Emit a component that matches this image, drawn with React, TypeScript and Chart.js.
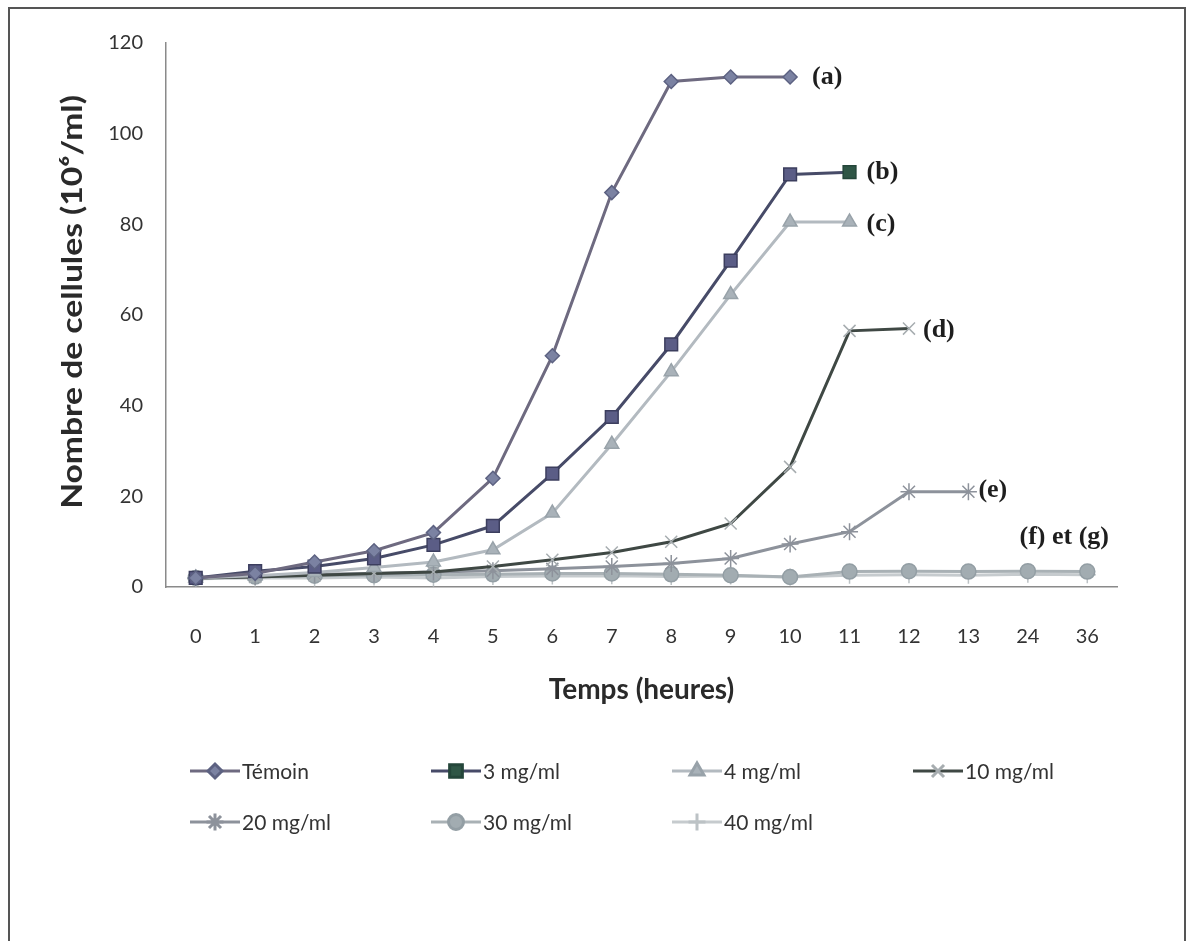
import React, { useEffect, useRef } from 'react';
import { Chart, registerables } from 'chart.js';
import { drawPoint } from 'chart.js/helpers';

Chart.register(...registerables);

// ---- data ----
const hours = ['0', '1', '2', '3', '4', '5', '6', '7', '8', '9', '10', '11', '12', '13', '24', '36'];
const temoin = [2, 3, 5.5, 8, 12, 24, 51, 87, 111.5, 112.5, 112.5];
const mg3 = [2, 3.5, 4.5, 6.3, 9.3, 13.5, 25, 37.5, 53.5, 72, 91, 91.5];
const mg4 = [2, 2.5, 3.2, 4.3, 5.5, 8.2, 16.3, 31.5, 47.5, 64.5, 80.5, 80.5];
const mg10 = [2, 2.2, 2.6, 3, 3.3, 4.5, 6, 7.6, 10, 14, 26.5, 56.5, 57];
const mg20 = [2, 2.3, 2.8, 3, 3.3, 3.6, 4, 4.5, 5.2, 6.3, 9.5, 12.2, 21, 21];
const mg30 = [2, 2.3, 2.5, 2.6, 2.7, 2.8, 3, 3, 2.8, 2.6, 2.2, 3.4, 3.5, 3.4, 3.5, 3.4];
const mg40 = [1.8, 2, 2, 2.2, 2, 2.3, 2.4, 2.5, 2.3, 2.4, 2.2, 2.6, 2.7, 2.6, 2.8, 2.7];
const seriesNames = ['Témoin', '3 mg/ml', '4 mg/ml', '10 mg/ml', '20 mg/ml', '30 mg/ml', '40 mg/ml'];
const curveTags = ['(a)', '(b)', '(c)', '(d)', '(e)', '(f) et (g)'];
const yMin = 0;
const yMax = 120;
const yStep = 20;
const xTitle = 'Temps (heures)';
const yTitle = 'Nombre de cellules (10⁶/ml)';

// ---- styles ----
const styles = [
  { line: '#6e6a80', fill: '#7b82a2', border: '#5d6282', pointStyle: 'rectRot', radius: 7 },
  { line: '#474b68', fill: '#5b5d86', border: '#3c3e5e', pointStyle: 'rect', radius: 9 },
  { line: '#b3bac0', fill: '#a9b2b9', border: '#98a2a9', pointStyle: 'triangle', radius: 8 },
  { line: '#3f4844', fill: '#a7adb0', border: '#a7adb0', pointStyle: 'crossRot', radius: 8.5 },
  { line: '#8d929b', fill: '#8d929b', border: '#8d929b', pointStyle: 'star', radius: 8.5 },
  { line: '#a9b1b5', fill: '#a2acb1', border: '#939ea4', pointStyle: 'circle', radius: 7.5 },
  { line: '#c6cbce', fill: '#c0c6c9', border: '#bcc2c5', pointStyle: 'cross', radius: 8.5 },
];
const seriesData = [temoin, mg3, mg4, mg10, mg20, mg30, mg40];

const tagPlugin = {
  id: 'tagsAndLegend',
  afterDatasetsDraw(chart: any) {
    const ctx = chart.ctx;
    ctx.save();
    ctx.fillStyle = '#1e1e1e';
    ctx.font = 'bold 26px "Liberation Serif"';
    ctx.textBaseline = 'middle';
    const offsets = [[22, 0], [17, 0], [17, 2], [14, 2], [10, -2]];
    for (let i = 0; i < 5; i++) {
      const meta = chart.getDatasetMeta(i);
      const el = meta.data[seriesData[i].length - 1];
      ctx.textAlign = 'left';
      ctx.fillText(curveTags[i], el.x + offsets[i][0], el.y + offsets[i][1]);
    }
    const m5 = chart.getDatasetMeta(5);
    const last5 = m5.data[seriesData[5].length - 1];
    ctx.textAlign = 'center';
    ctx.fillText(curveTags[5], last5.x - 23, last5.y - 34);
    ctx.restore();
  },
  afterDraw(chart: any) {
    const ctx = chart.ctx;
    const area = chart.chartArea;
    ctx.save();
    // y title (stretched along its length like the reference)
    ctx.save();
    ctx.translate(73, (area.top + area.bottom) / 2 - 13);
    ctx.rotate(-Math.PI / 2);
    ctx.scale(1.2, 1);
    ctx.font = 'bold 28px Lato';
    ctx.fillStyle = '#2a2a2a';
    ctx.textAlign = 'center';
    ctx.textBaseline = 'middle';
    ctx.fillText(yTitle, 0, 0);
    ctx.restore();
    // legend
    ctx.font = '21px Lato';
    ctx.textBaseline = 'middle';
    ctx.textAlign = 'left';
    for (let i = 0; i < seriesNames.length; i++) {
      const row = i < 4 ? 0 : 1;
      const col = i < 4 ? i : i - 4;
      const x0 = area.left + 24 + col * 241;
      const y = area.bottom + 184 + row * 51;
      const st = styles[i];
      ctx.strokeStyle = st.line;
      ctx.lineWidth = 3;
      ctx.beginPath();
      ctx.moveTo(x0, y);
      ctx.lineTo(x0 + 50, y);
      ctx.stroke();
      ctx.fillStyle = i === 1 ? '#2f5646' : st.fill;
      ctx.strokeStyle = i === 1 ? '#24463a' : st.border;
      drawPoint(ctx, { pointStyle: st.pointStyle, radius: st.radius, rotation: 0, borderWidth: 1.5 }, x0 + 25, y);
      ctx.fillStyle = '#333';
      ctx.fillText(seriesNames[i], x0 + 52, y + 1);
    }
    ctx.restore();
  },
};

export default function App() {
  const ref = useRef<HTMLCanvasElement | null>(null);
  useEffect(() => {
    if (!ref.current) return;
    const datasets = seriesData.map((d, i) => {
      const st = styles[i];
      let bg: any = st.fill;
      let bd: any = st.border;
      if (i === 1) {
        bg = d.map((_, k) => (k === d.length - 1 ? '#2f5646' : st.fill));
        bd = d.map((_, k) => (k === d.length - 1 ? '#24463a' : st.border));
      }
      return {
        label: seriesNames[i],
        data: d,
        borderColor: st.line,
        borderWidth: 3,
        pointStyle: st.pointStyle,
        pointRadius: st.radius,
        pointBackgroundColor: bg,
        pointBorderColor: bd,
        pointBorderWidth: 1.5,
        tension: 0,
        fill: false,
      };
    });
    const chart = new Chart(ref.current, {
      type: 'line',
      data: { labels: hours, datasets },
      options: {
        animation: false,
        responsive: false,
        devicePixelRatio: 1,
        layout: { padding: { top: 43, right: 71, left: 0, bottom: 0 } },
        plugins: { legend: { display: false }, tooltip: { enabled: false } },
        scales: {
          x: {
            offset: true,
            grid: { display: false, drawTicks: false },
            border: { display: true, color: '#8a8a8a', width: 1.5 },
            ticks: { padding: 38, color: '#333', font: { family: 'Lato', size: 20 }, maxRotation: 0, autoSkip: false },
            title: {
              display: true,
              text: xTitle,
              color: '#2a2a2a',
              font: { family: 'Lato', size: 28, weight: 'bold' },
              padding: { top: 0, bottom: 234 },
            },
            afterFit: (s: any) => {
              s.height = 354;
            },
          },
          y: {
            min: yMin,
            max: yMax,
            grid: { display: false, drawTicks: false },
            border: { display: true, color: '#8a8a8a', width: 1.5 },
            ticks: { stepSize: yStep, padding: 23, color: '#333', font: { family: 'Lato', size: 20 } },
            title: { display: false },
            afterFit: (s: any) => {
              s.width = 166;
            },
          },
        },
      },
      plugins: [tagPlugin],
    } as any);
    return () => chart.destroy();
  }, []);
  return (
    <div>
      <div
        style={{
          position: 'fixed',
          left: 8,
          top: 7,
          width: 1178,
          height: 960,
          boxSizing: 'border-box',
          borderTop: '2px solid #555',
          borderLeft: '2px solid #555',
          borderRight: '2px solid #555',
        }}
      />
      <canvas
        ref={ref}
        width={1188}
        height={941}
        style={{ position: 'fixed', left: 0, top: 0, width: 1188, height: 941 }}
      />
    </div>
  );
}
